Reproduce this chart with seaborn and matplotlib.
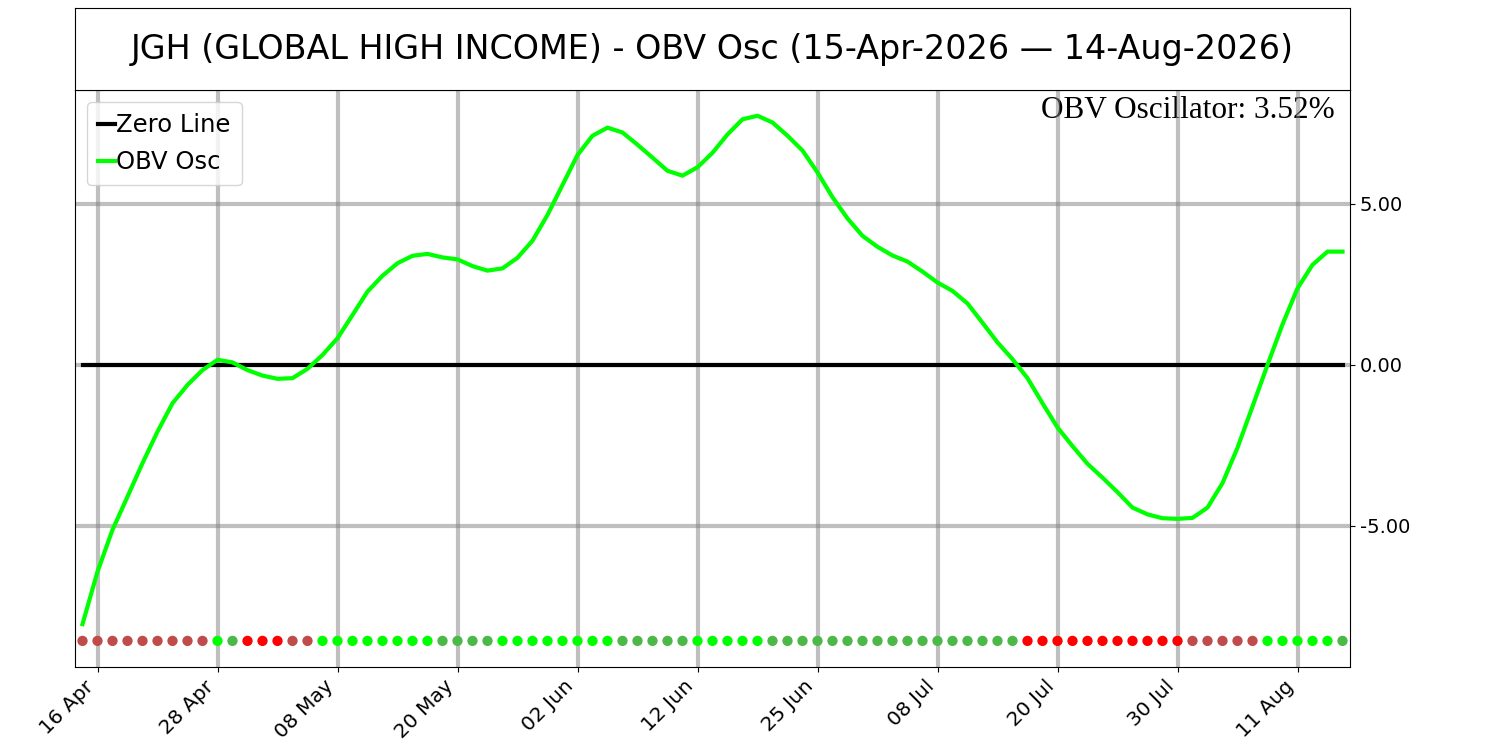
import pandas as pd
import numpy as np
import matplotlib
matplotlib.use('Agg')
import matplotlib.pyplot as plt
import seaborn as sns

# trading days (NYSE calendar, 15-Apr-2026 .. 14-Aug-2026)
holidays = ['2026-05-25', '2026-06-19', '2026-07-03']
dates = pd.bdate_range('2026-04-15', '2026-08-14', freq='C', holidays=holidays)

# OBV oscillator values
obv_osc = [
    -8.05, -6.42, -5.12, -4.09, -3.05, -2.07, -1.19, -0.62, -0.16, 0.16,
    0.08, -0.16, -0.33, -0.43, -0.41, -0.12, 0.31, 0.83, 1.55, 2.28,
    2.77, 3.16, 3.39, 3.45, 3.34, 3.28, 3.07, 2.93, 3.00, 3.33,
    3.86, 4.66, 5.59, 6.52, 7.12, 7.37, 7.22, 6.84, 6.44, 6.03,
    5.88, 6.14, 6.59, 7.16, 7.63, 7.74, 7.53, 7.12, 6.66, 5.98,
    5.21, 4.55, 4.01, 3.67, 3.40, 3.21, 2.90, 2.56, 2.30, 1.91,
    1.31, 0.70, 0.18, -0.41, -1.19, -1.94, -2.52, -3.07, -3.50, -3.95,
    -4.43, -4.64, -4.76, -4.78, -4.75, -4.43, -3.67, -2.57, -1.29, 0.00,
    1.26, 2.38, 3.11, 3.52, 3.52,
]

# state of each day: up/down above zero, down/up below zero
state = (['neg_up'] * 9 + ['pos_up', 'pos_dn'] + ['neg_dn'] * 3 + ['neg_up'] * 2
         + ['pos_up'] * 8 + ['pos_dn'] * 4 + ['pos_up'] * 8 + ['pos_dn'] * 5
         + ['pos_up'] * 5 + ['pos_dn'] * 17 + ['neg_dn'] * 11 + ['neg_up'] * 5
         + ['pos_up'] * 5 + ['pos_dn'])

state_colors = {'pos_up': '#00ff00', 'pos_dn': '#4cb848',
                'neg_dn': '#ff0000', 'neg_up': '#c04b4b'}

df = pd.DataFrame({'i': np.arange(len(dates)), 'date': dates,
                   'osc': obv_osc, 'state': state})
dot_level = -8.57

fig = plt.figure(figsize=(15, 7.5), dpi=100)
ax = fig.add_axes([0.05, 0.1107, 0.85, 0.7693])
tax = fig.add_axes([0.05, 0.88, 0.85, 0.109])

# title box
tax.set_xticks([])
tax.set_yticks([])
tax.text(0.5, 0.5, 'JGH (GLOBAL HIGH INCOME) - OBV Osc (15-Apr-2026 \u2014 14-Aug-2026)',
         ha='center', va='center', fontsize=24, transform=tax.transAxes)

# zero line + oscillator
ax.plot([df['i'].iloc[0], df['i'].iloc[-1]], [0, 0], color='black', lw=3, label='Zero Line', zorder=2)
sns.lineplot(data=df, x='i', y='osc', color='#00ff00', lw=3, label='OBV Osc', ax=ax, zorder=3)

# signal dots
df['lvl'] = dot_level
sns.scatterplot(data=df, x='i', y='lvl', hue='state', palette=state_colors,
                s=55, edgecolor='none', legend=False, ax=ax, zorder=3)

ax.set_xlim(-0.5, len(df) - 0.5)
ax.set_ylim(-9.38, 8.54)

ticks = df.iloc[1::8]
ax.set_xticks(ticks['i'])
ax.set_xticklabels([d.strftime('%d %b') for d in ticks['date']],
                   rotation=45, ha='right', fontsize=14.5)
ax.yaxis.tick_right()
ax.set_yticks([-5, 0, 5])
ax.set_yticklabels(['%.2f' % v for v in [-5, 0, 5]], fontsize=14)
ax.set_xlabel('')
ax.set_ylabel('')
ax.grid(True, color='gray', alpha=0.5, lw=3)

ax.text(0.988, 0.99, 'OBV Oscillator: %.2f%%' % obv_osc[-1], transform=ax.transAxes,
        ha='right', va='top', fontsize=22.5, family='Liberation Serif', zorder=0)

ax.legend(loc='upper left', fontsize=17.5, handlelength=0.7, handletextpad=0.05,
          borderpad=0.45, labelspacing=0.55, borderaxespad=0.5)

fig.savefig('out.png', dpi=100)
